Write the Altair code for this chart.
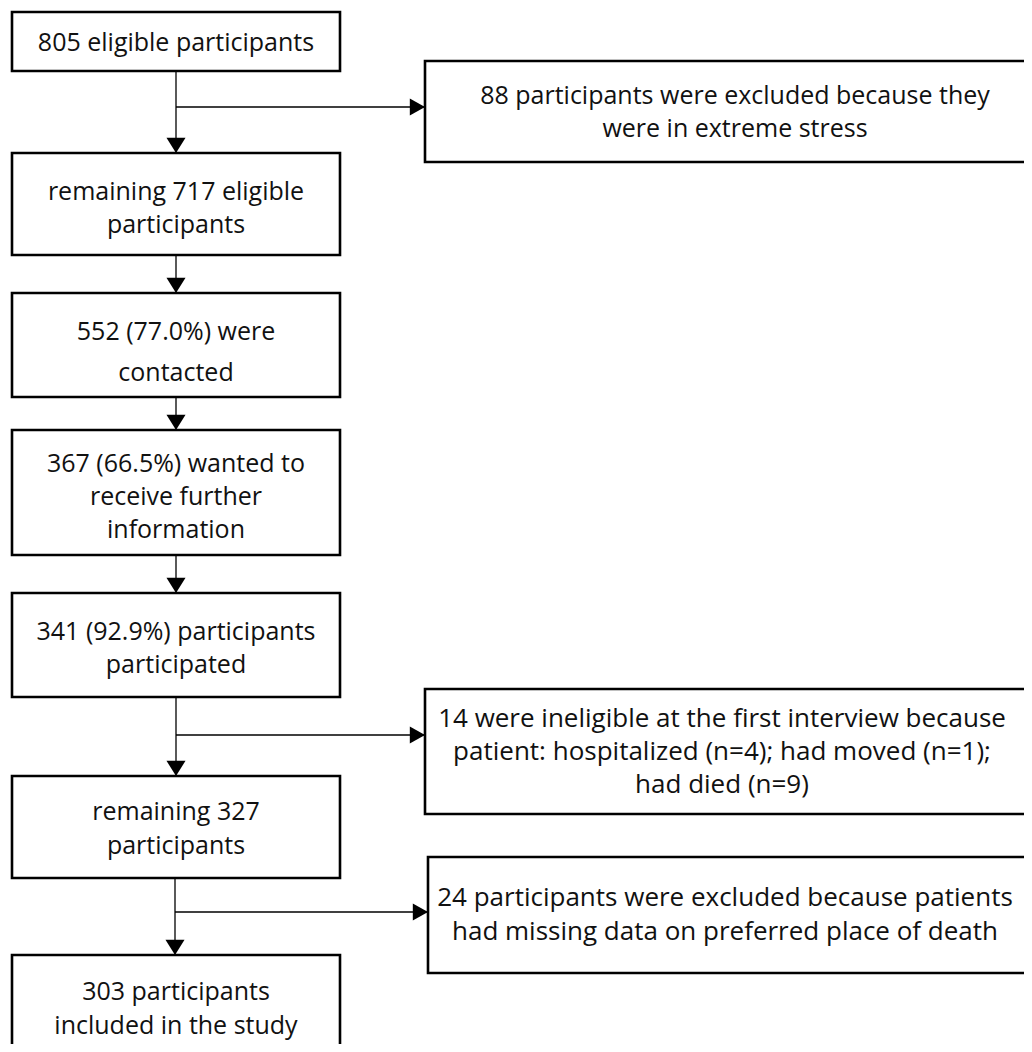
import altair as alt
import pandas as pd

# ---- content ----
left_labels = [
    ["805 eligible participants"],
    ["remaining 717 eligible", "participants"],
    ["552 (77.0%) were", "contacted"],
    ["367 (66.5%) wanted to", "receive further", "information"],
    ["341 (92.9%) participants", "participated"],
    ["remaining 327", "participants"],
    ["303 participants", "included in the study"],
]
right_labels = [
    ["88 participants were excluded because they", "were in extreme stress"],
    ["14 were ineligible at the first interview because",
     "patient: hospitalized (n=4); had moved (n=1);", "had died (n=9)"],
    ["24 participants were excluded because patients",
     "had missing data on preferred place of death"],
]

# ---- layout (pixel coordinates of the diagram) ----
left_x0, left_x1, left_cx = 12, 340, 176
left_y = [(12, 71), (153, 255), (293, 397), (430, 555), (593, 697), (776, 878), (955, 1070)]
left_line_y = [[43], [192, 225], [332, 373], [464, 497, 530], [632, 665], [812, 846], [992, 1026]]
left_fs = 25

right_x0 = [425, 425, 428]
right_x1 = 1060
right_cx = [735, 722, 725]
right_y = [(61, 162), (689, 814), (857, 973)]
right_line_y = [[96, 129], [719, 752, 785], [898, 932]]
right_fs = [25, 26, 26]

connectors = [  # x, y, x2, y2
    (176, 71, 176, 153), (176, 107, 425, 107),
    (176, 255, 176, 293), (176, 397, 176, 430),
    (176, 555, 176, 593), (176, 697, 176, 776),
    (176, 735, 425, 735), (175, 878, 175, 955),
    (175, 912, 428, 912),
]
down_tips = [(176, 153), (176, 293), (176, 430), (176, 593), (176, 776), (175, 955)]
right_tips = [(425, 107), (425, 735), (428, 912)]

# ---- tables ----
boxes = pd.DataFrame(
    [dict(x=left_x0, x2=left_x1, y=a, y2=b) for a, b in left_y]
    + [dict(x=x0, x2=right_x1, y=a, y2=b) for x0, (a, b) in zip(right_x0, right_y)]
)
texts = []
for lines, ys in zip(left_labels, left_line_y):
    for t, yy in zip(lines, ys):
        texts.append(dict(x=left_cx, y=yy, t=t, fs=left_fs))
for lines, ys, cx, fs in zip(right_labels, right_line_y, right_cx, right_fs):
    for t, yy in zip(lines, ys):
        texts.append(dict(x=cx, y=yy, t=t, fs=fs))
texts = pd.DataFrame(texts)
rules = pd.DataFrame(connectors, columns=["x", "y", "x2", "y2"])
ARW = 9.5
downs = pd.DataFrame([dict(x=x, y=y - 0.8 * ARW) for x, y in down_tips])
rights = pd.DataFrame([dict(x=x - 0.8 * ARW, y=y) for x, y in right_tips])

xs = alt.Scale(domain=[8, 1024], nice=False, zero=False)
ys = alt.Scale(domain=[8, 1044], nice=False, zero=False, reverse=True)

def X(f="x"):
    return alt.X(f"{f}:Q", scale=xs, axis=None)

def Y(f="y"):
    return alt.Y(f"{f}:Q", scale=ys, axis=None)

rect = alt.Chart(boxes).mark_rect(fill="white", stroke="black", strokeWidth=2.6, clip=True).encode(
    x=X(), x2="x2:Q", y=Y(), y2="y2:Q")
rule = alt.Chart(rules).mark_rule(color="black", strokeWidth=1.3, clip=True).encode(
    x=X(), x2="x2:Q", y=Y(), y2="y2:Q")
down = alt.Chart(downs).mark_point(shape="M-1,-0.8L1,-0.8L0,0.8Z", filled=True, color="black",
                                   opacity=1, size=(2 * ARW) ** 2, strokeWidth=0).encode(x=X(), y=Y())
right = alt.Chart(rights).mark_point(shape="M-0.8,-0.9L0.8,0L-0.8,0.9Z", filled=True, color="black",
                                     opacity=1, size=(2 * ARW) ** 2, strokeWidth=0).encode(x=X(), y=Y())
text = alt.Chart(texts).mark_text(font="Open Sans", color="#111111", align="center",
                                  baseline="middle").encode(
    x=X(), y=Y(), text="t:N", size=alt.Size("fs:Q", scale=None, legend=None))

chart = alt.layer(rect, rule, down, right, text).properties(
    width=1016, height=1036, padding=0, autosize=alt.AutoSizeParams(type="none")
).configure_view(stroke=None)

chart.save("out.html", embed_options={"renderer": "svg", "actions": False})
